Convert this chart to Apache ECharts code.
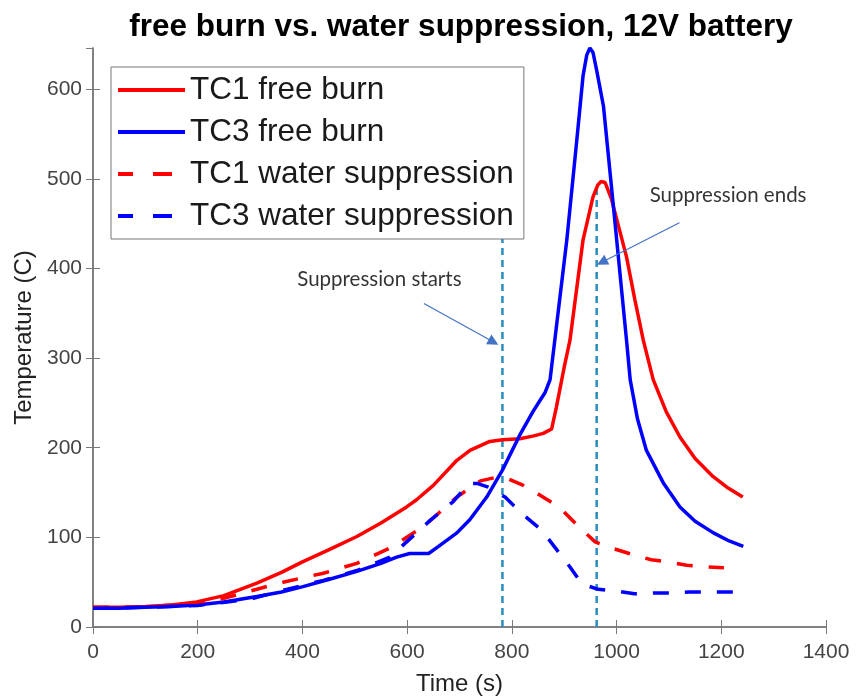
<!DOCTYPE html>
<html>
<head>
<meta charset="utf-8">
<script src="https://cdn.jsdelivr.net/npm/echarts@6/dist/echarts.min.js"></script>
<style>
html,body{margin:0;padding:0;background:#fff;}
#chart{width:863px;height:696px;}
</style>
</head>
<body>
<div id="chart"></div>
<script>
// ---- data (time s, temperature C) ----
var titleText = 'free burn vs. water suppression, 12V battery';
var xTicks = [0, 200, 400, 600, 800, 1000, 1200, 1400];
var yTicks = [0, 100, 200, 300, 400, 500, 600];
var seriesNames = ['TC1 free burn', 'TC3 free burn', 'TC1 water suppression', 'TC3 water suppression'];

var tc1FreeBurn = [[0,22],[50,22],[100,23],[150,24.5],[198,28],[250,35],[313,49],[360,61],[401,73],[450,86],[504,101],[550,116],[599,134],[618,142],[650,158],[695,186],[720,197],[758,207],[782,209],[815,210],[840,213],[860,216],[876,221],[885,245],[900,290],[911,320],[936,432],[955,480],[964,493],[970,497],[978,496],[990,478],[1019,413],[1035,365],[1051,320],[1070,276],[1095,240],[1121,212],[1150,188],[1184,168],[1213,155],[1241,145]];

var tc3FreeBurn = [[0,21],[50,21],[100,22],[150,23],[198,24.5],[250,28],[313,34],[360,39],[401,45],[450,53],[504,62],[550,71],[580,78],[605,82],[625,82],[641,82],[660,90],[695,105],[720,120],[752,145],[782,175],[815,214],[840,240],[854,253],[863,261],[873,276],[882,320],[905,432],[924,543],[936,615],[943,638],[949,646],[955,641],[962,621],[975,581],[994,469],[1019,320],[1026,276],[1040,232],[1057,197],[1090,160],[1121,134],[1150,118],[1185,105],[1215,96],[1242,90]];

var tc1Water = [[0,22],[100,22],[200,27],[250,32],[293,39],[363,50],[440,60],[504,71],[567,88],[631,112],[695,145],[740,163],[770,167],[790,166],[822,158],[854,147],[892,133],[924,114],[959,95],[991,88],[1035,80],[1066,75],[1105,72],[1134,69],[1173,67],[1205,66]];

var tc3Water = [[0,21],[100,22],[200,24],[300,31],[363,41],[440,52],[504,63],[567,78],[618,105],[644,119],[688,140],[718,160],[735,160],[755,156],[787,145],[822,125],[857,108],[886,86],[911,67],[934,48],[965,42],[1002,40],[1034,37],[1072,38],[1104,38],[1139,39],[1171,39],[1222,39]];

var suppressionStart = 782;
var suppressionStartTop = 433;
var suppressionEnd = 962;
var suppressionEndTop = 490;

var annotationTexts = ['Suppression starts', 'Suppression ends'];
var annotationAt = [[547, 388], [1213, 481]];
var arrowFrom = [[632, 361], [1120, 451]];
var arrowTo = [[765, 318], [972, 407]];

// ---- chart ----
var X_MIN = 0, X_MAX = 1400, Y_MIN = 0, Y_MAX = 646;
var axisColor = '#7a7a7a';
var labelColor = '#444';
var sansFont = '"Liberation Sans", Arial, Helvetica, sans-serif';

var solidIcon = 'path://M0,0H67V4H0Z';
var dashedIcon = 'path://M0,0H15V4H0Z M35,0H54V4H35Z M67,0L67,4Z';

var chart = echarts.init(document.getElementById('chart'), null, {renderer: 'canvas'});

function lineSeries(name, data, color, dashed) {
  return {
    name: name, type: 'line', data: data, symbol: 'none', showSymbol: false,
    smooth: false, silent: true, z: 3,
    lineStyle: {color: color, width: 3.5, type: dashed ? [16, 16] : 'solid'},
    itemStyle: {color: color}
  };
}

var vlineStyle = {color: '#2b8cbe', width: 2.5, type: [7, 5]};

var option = {
  backgroundColor: '#fff',
  animation: false,
  title: {
    text: titleText, left: 461, top: 11, textAlign: 'center', padding: 0,
    textStyle: {fontFamily: sansFont, fontSize: 31.5, fontWeight: 'bold', color: '#000'}
  },
  grid: {left: 93, right: 37, top: 48, bottom: 69, containLabel: false, outerBoundsMode: 'none'},
  legend: {
    data: seriesNames.map(function (n, i) { return {name: n, icon: i < 2 ? solidIcon : dashedIcon}; }),
    orient: 'vertical', left: 111, top: 67,
    padding: [6, 10, 6, 7], itemGap: 8, itemWidth: 67, itemHeight: 4,
    backgroundColor: '#fff', borderColor: '#777', borderWidth: 1,
    selectedMode: false,
    textStyle: {fontFamily: sansFont, fontSize: 31.5, color: '#1a1a1a', lineHeight: 34}
  },
  xAxis: [{
    type: 'value', min: X_MIN, max: X_MAX, interval: 200, position: 'bottom',
    name: 'Time (s)', nameLocation: 'middle', nameGap: 45,
    nameTextStyle: {fontFamily: sansFont, fontSize: 24, color: '#222'},
    axisLine: {show: true, lineStyle: {color: axisColor, width: 1.5}},
    axisTick: {show: true, inside: true, length: 7, lineStyle: {color: axisColor}},
    axisLabel: {fontFamily: sansFont, fontSize: 21, color: labelColor, margin: 15,
      formatter: function (v) { return xTicks.indexOf(v) >= 0 ? String(v) : ''; }},
    splitLine: {show: false}
  }, {
    type: 'value', min: X_MIN, max: X_MAX, interval: 200, position: 'top',
    axisLine: {show: true, lineStyle: {color: axisColor, width: 1.5}},
    axisTick: {show: true, inside: true, length: 7, lineStyle: {color: axisColor}},
    axisLabel: {show: false}, splitLine: {show: false}
  }],
  yAxis: [{
    type: 'value', min: Y_MIN, max: Y_MAX, interval: 100, position: 'left',
    name: 'Temperature (C)', nameLocation: 'middle', nameGap: 54, nameRotate: 90,
    nameTextStyle: {fontFamily: sansFont, fontSize: 24, color: '#222'},
    axisLine: {show: true, lineStyle: {color: axisColor, width: 1.5}},
    axisTick: {show: true, inside: true, length: 7, lineStyle: {color: axisColor}},
    axisLabel: {fontFamily: sansFont, fontSize: 21, color: labelColor, margin: 11, showMaxLabel: false,
      formatter: function (v) { return yTicks.indexOf(v) >= 0 ? String(v) : ''; }},
    splitLine: {show: false}
  }, {
    type: 'value', min: Y_MIN, max: Y_MAX, interval: 100, position: 'right',
    axisLine: {show: true, lineStyle: {color: axisColor, width: 1.5}},
    axisTick: {show: true, inside: true, length: 7, lineStyle: {color: axisColor}},
    axisLabel: {show: false}, splitLine: {show: false}
  }],
  series: [
    {
      name: 'suppression start', type: 'line', silent: true, symbol: 'none', z: 2,
      data: [[suppressionStart, Y_MIN], [suppressionStart, suppressionStartTop]],
      lineStyle: vlineStyle
    },
    {
      name: 'suppression end', type: 'line', silent: true, symbol: 'none', z: 2,
      data: [[suppressionEnd, Y_MIN], [suppressionEnd, suppressionEndTop]],
      lineStyle: vlineStyle
    },
    lineSeries(seriesNames[0], tc1FreeBurn, '#ff0000', false),
    lineSeries(seriesNames[1], tc3FreeBurn, '#0000ff', false),
    lineSeries(seriesNames[2], tc1Water, '#ff0000', true),
    lineSeries(seriesNames[3], tc3Water, '#0000ff', true),
    {
      name: 'annotations', type: 'scatter', silent: true, symbolSize: 0, z: 5,
      data: annotationTexts.map(function (t, i) { return {name: t, value: annotationAt[i]}; }),
      label: {show: true, position: 'inside', formatter: '{b}',
        fontFamily: 'Lato, "Open Sans", sans-serif', fontSize: 20.5, color: '#000'},
      markLine: {
        silent: true, symbol: ['none', 'triangle'], symbolSize: 11,
        lineStyle: {color: '#4472c4', width: 1.2, type: 'solid'},
        label: {show: false},
        data: arrowFrom.map(function (f, i) { return [{coord: f}, {coord: arrowTo[i]}]; })
      }
    }
  ]
};
chart.setOption(option);
</script>
</body>
</html>
